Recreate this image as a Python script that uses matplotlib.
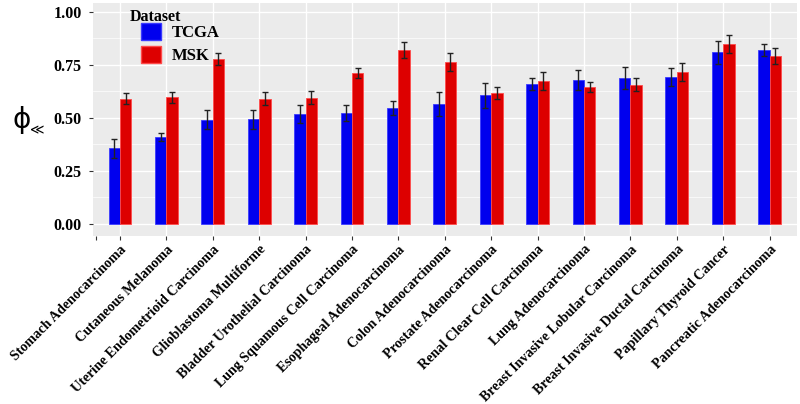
import numpy as np
import matplotlib
matplotlib.use('Agg')
from matplotlib import pyplot as plt
from matplotlib.patches import Patch

cancers = ['Stomach Adenocarcinoma', 'Cutaneous Melanoma',
           'Uterine Endometrioid Carcinoma', 'Glioblastoma Multiforme',
           'Bladder Urothelial Carcinoma', 'Lung Squamous Cell Carcinoma',
           'Esophageal Adenocarcinoma', 'Colon Adenocarcinoma',
           'Prostate Adenocarcinoma', 'Renal Clear Cell Carcinoma',
           'Lung Adenocarcinoma', 'Breast Invasive Lobular Carcinoma',
           'Breast Invasive Ductal Carcinoma', 'Papillary Thyroid Cancer',
           'Pancreatic Adenocarcinoma']

tcga = [0.356, 0.410, 0.491, 0.493, 0.517, 0.522, 0.547, 0.565,
        0.608, 0.660, 0.678, 0.687, 0.692, 0.810, 0.819]
tcga_err = [0.046, 0.017, 0.044, 0.043, 0.042, 0.038, 0.035, 0.056,
            0.059, 0.029, 0.047, 0.052, 0.043, 0.054, 0.029]
msk = [0.590, 0.597, 0.779, 0.590, 0.596, 0.712, 0.821, 0.763,
       0.617, 0.673, 0.645, 0.657, 0.717, 0.848, 0.794]
msk_err = [0.026, 0.025, 0.028, 0.031, 0.029, 0.025, 0.039, 0.042,
           0.029, 0.043, 0.024, 0.031, 0.043, 0.042, 0.038]

blue = '#0000EE'
red = '#DD0000'
serif = 'Liberation Serif'

fig = plt.figure(figsize=(8, 4.04), dpi=100)
ax = fig.add_axes([93/800, (404-236)/404, (797-93)/800, (236-3)/404])
ax.set_facecolor('#EBEBEB')

x = np.arange(len(cancers))
w = 0.245
ax.bar(x - w/2, tcga, w, color=blue, edgecolor='#3a3aff', linewidth=0.6, zorder=3)
ax.bar(x + w/2, msk, w, color=red, edgecolor='#ff4a4a', linewidth=0.6, zorder=3)
ax.errorbar(x - w/2, tcga, yerr=tcga_err, fmt='none', ecolor='#222222',
            elinewidth=1.0, capsize=2, capthick=1.0, zorder=4)
ax.errorbar(x + w/2, msk, yerr=msk_err, fmt='none', ecolor='#222222',
            elinewidth=1.0, capsize=2, capthick=1.0, zorder=4)

ax.set_xlim(-0.58, 14.59)
ax.set_ylim(-0.057, 1.042)
ax.set_yticks([0, 0.25, 0.5, 0.75, 1.0])
ax.set_yticks([0.125, 0.375, 0.625, 0.875], minor=True)
ax.set_yticklabels(['0.00', '0.25', '0.50', '0.75', '1.00'],
                   fontfamily=serif, fontweight='bold', fontsize=11.5)
ax.set_xticks(x)
ax.set_xticks([-0.52], minor=True)
ax.set_xticklabels(cancers, rotation=45, ha='right', rotation_mode='anchor',
                   fontfamily=serif, fontweight='bold', fontsize=10.1)
ax.grid(which='major', color='white', linewidth=1.0, zorder=0)
ax.grid(which='minor', axis='y', color='white', linewidth=0.5, zorder=0)
ax.set_axisbelow(True)
for s in ax.spines.values():
    s.set_visible(False)
ax.tick_params(which='both', length=3, color='#333333', width=0.8)
ax.tick_params(axis='y', which='minor', length=0)
ax.tick_params(axis='y', pad=5)
ax.tick_params(axis='x', pad=2)

fig.text(0.0275, 0.703, '\u03d5', fontsize=20, family='DejaVu Sans',
         ha='center', va='center')
fig.text(0.047, 0.678, '\u226a', fontsize=10, family='DejaVu Sans',
         ha='center', va='center')

# legend: title drawn separately so it sits left of the keys
ax.text((130-93)/704, (233-6)/233, 'Dataset', transform=ax.transAxes,
        ha='left', va='top', fontfamily=serif, fontweight='bold', fontsize=11.5)
handles = [Patch(facecolor=blue, edgecolor='#3a3aff', label='TCGA'),
           Patch(facecolor=red, edgecolor='#ff4a4a', label='MSK')]
leg = ax.legend(handles=handles, loc='upper left',
                bbox_to_anchor=((142-93)/704 - 0.008, (233-15)/233), frameon=False,
                prop={'family': serif, 'weight': 'bold', 'size': 12},
                handlelength=1.15, handleheight=1.2, handletextpad=0.7,
                labelspacing=0.3, borderaxespad=0, borderpad=0.3)

fig.savefig('out.png', dpi=100)
